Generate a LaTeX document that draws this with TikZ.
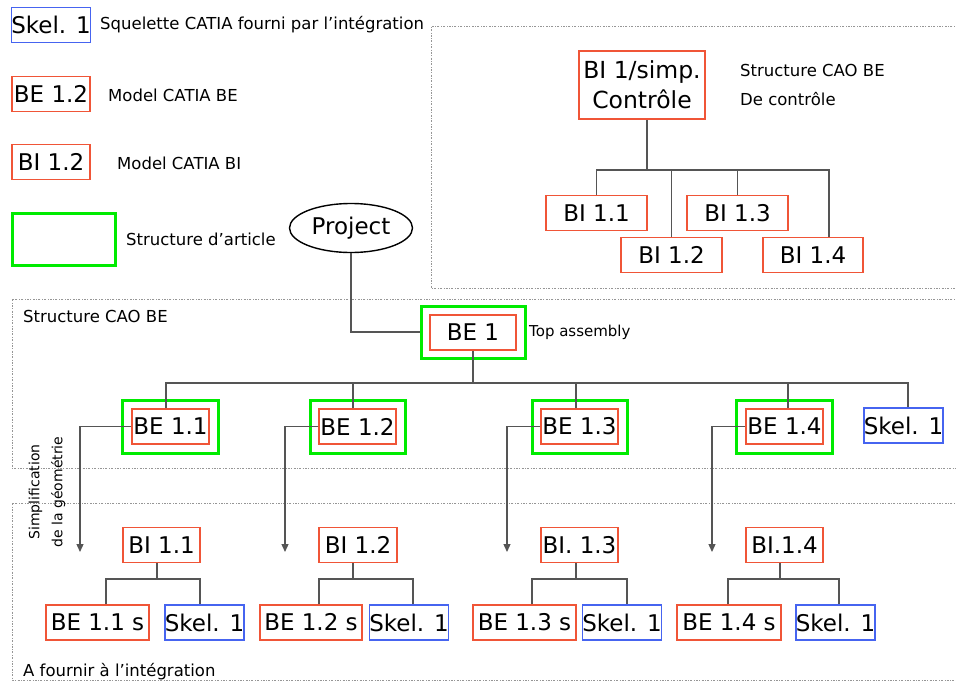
\documentclass[tikz,border=0pt]{standalone}
\usepackage{fontspec}
\setmainfont{DejaVu Sans}
\usetikzlibrary{arrows.meta,shapes.geometric}
\definecolor{bred}{RGB}{240,85,55}
\definecolor{bgreen}{RGB}{0,235,0}
\definecolor{bblue}{RGB}{70,100,240}
\definecolor{conn}{RGB}{85,85,85}
\definecolor{frm}{RGB}{150,150,150}
\begin{document}
\begin{tikzpicture}[x=1pt,y=-1pt,
  bx/.style={inner sep=0pt, font=\fontsize{23}{27}\selectfont, minimum height=35pt, line width=1.4pt},
  redbox/.style={bx, draw=bred},
  bluebox/.style={bx, draw=bblue},
  greenbox/.style={draw=bgreen, line width=3pt, inner sep=0pt, minimum height=53pt},
  lbl/.style={anchor=west, inner sep=0pt, font=\fontsize{16.5}{19}\selectfont},
  frame/.style={draw=frm, line width=0.8pt, dash pattern=on 2pt off 1.5pt on 0.7pt off 1.5pt},
  link/.style={draw=conn, line width=1.3pt},
  arr/.style={link, -{Triangle[width=7pt,length=8pt]}},
]
\useasboundingbox (0,0) rectangle (956,682);
\clip (0,0) rectangle (956,682);

% frames
\draw[frame] (958,26) -- (431,26) -- (431,288) -- (958,288);
\draw[frame] (958,299) -- (12,299) -- (12,468) -- (958,468);
\draw[frame] (958,503) -- (12,503) -- (12,680) -- (958,680);

% legend
\node[bluebox, minimum width=77pt] (lskel) at (51,25) {Skel. 1};
\node[lbl] (tskel) at (100,25) {Squelette CATIA fourni par l’intégration};
\node[redbox, minimum width=78pt] (lbe) at (51,94) {BE 1.2};
\node[lbl] (tbe) at (108,95) {Model CATIA BE};
\node[redbox, minimum width=78pt] (lbi) at (51,162) {BI 1.2};
\node[lbl] (tbi) at (117,163) {Model CATIA BI};
\node[greenbox, minimum width=103pt, minimum height=52pt] (lgr) at (63.5,239) {};
\node[lbl] (tgr) at (126,239) {Structure d’article};

% project
\node[ellipse, draw, line width=1.4pt, minimum width=123pt, minimum height=49pt, inner sep=0pt,
  font=\fontsize{23}{26}\selectfont] (proj) at (351,228) {Project};

% top-right control structure
\node[bx, draw=bred, line width=2pt, minimum width=126pt, minimum height=68pt, align=center,
  font=\fontsize{23.5}{30}\selectfont] (simp) at (642,85) {BI 1/simp.\\Contrôle};
\node[lbl] (tsc1) at (740,70) {Structure CAO BE};
\node[lbl] (tsc2) at (740,99) {De contrôle};
\node[redbox, minimum width=101pt] (tbi1) at (596.5,213) {BI 1.1};
\node[redbox, minimum width=101pt] (tbi2) at (671.5,255) {BI 1.2};
\node[redbox, minimum width=101pt] (tbi3) at (737.5,213) {BI 1.3};
\node[redbox, minimum width=100pt] (tbi4) at (813,255) {BI 1.4};
\coordinate (tbar) at (647,170);
\draw[link] (simp.south -| tbar) -- (tbar);
\draw[link] (tbi1.north) |- (829,170) -- (tbi4.north -| 829,0);
\draw[link] (tbi2.north) -- (tbi2.north |- tbar);
\draw[link] (tbi3.north) -- (tbi3.north |- tbar);

% middle structure
\node[lbl] (tmid) at (23,316) {Structure CAO BE};
\node[greenbox, minimum width=104pt, minimum height=52pt] (be1g) at (473,332) {};
\node[redbox, minimum width=86pt] (be1) at (473,332.5) {BE 1};
\node[lbl, font=\fontsize{15}{18}\selectfont] (ttop) at (529,332) {Top assembly};
\draw[link] (proj.south) |- (be1g.west);

\node[greenbox, minimum width=96pt] (be11g) at (170,426.5) {};
\node[redbox, minimum width=77pt] (be11) at (170.5,426.5) {BE 1.1};
\node[greenbox, minimum width=95pt] (be12g) at (357.5,426.5) {};
\node[redbox, minimum width=77pt] (be12) at (357.5,426.5) {BE 1.2};
\node[greenbox, minimum width=95pt] (be13g) at (579.5,426.5) {};
\node[redbox, minimum width=77pt] (be13) at (579.5,426.5) {BE 1.3};
\node[greenbox, minimum width=96pt] (be14g) at (784,426.5) {};
\node[redbox, minimum width=77pt] (be14) at (784.5,426.5) {BE 1.4};
\node[bluebox, minimum width=77pt] (skm) at (903.5,425.5) {Skel. 1};

\coordinate (mbar) at (473,383);
\draw[link] (be1.south) -- (mbar);
\draw[link] (be11.north -| 166,0) |- (908,383) -- (skm.north -| 908,0);
\draw[link] (be12.north -| 353,0) -- (353,383);
\draw[link] (be13.north -| 576,0) -- (576,383);
\draw[link] (be14.north -| 788,0) -- (788,383);

% simplification arrows
\node[inner sep=0pt, rotate=90, align=center, font=\fontsize{14}{23}\selectfont] (simpl) at (47,492) {Simplification\\de la géométrie};
\coordinate (a1) at (80,552);
\coordinate (a2) at (285,552);
\coordinate (a3) at (507,552);
\coordinate (a4) at (712,552);
\draw[arr] (be11.west) -| (a1);
\draw[arr] (be12.west) -| (a2);
\draw[arr] (be13.west) -| (a3);
\draw[arr] (be14.west) -| (a4);

% bottom structure
\node[redbox, minimum width=77pt] (bi11) at (161.5,545) {BI 1.1};
\node[redbox, minimum width=78pt] (bi12) at (358,545) {BI 1.2};
\node[redbox, minimum width=77pt] (bi13) at (579.5,545) {BI. 1.3};
\node[redbox, minimum width=77pt] (bi14) at (784.5,545) {BI.1.4};

\node[redbox, minimum width=103pt] (be11s) at (97.5,622.5) {BE 1.1 s};
\node[bluebox, minimum width=77pt] (sk1) at (204.5,622.5) {Skel. 1};
\node[redbox, minimum width=102pt] (be12s) at (311,622.5) {BE 1.2 s};
\node[bluebox, minimum width=78pt] (sk2) at (409,622.5) {Skel. 1};
\node[redbox, minimum width=103pt] (be13s) at (524.5,622.5) {BE 1.3 s};
\node[bluebox, minimum width=78pt] (sk3) at (622,622.5) {Skel. 1};
\node[redbox, minimum width=104pt] (be14s) at (729,622.5) {BE 1.4 s};
\node[bluebox, minimum width=77pt] (sk4) at (835.5,622.5) {Skel. 1};

\draw[link] (bi11.south -| 157,0) -- (157,579);
\draw[link] (be11s.north -| 106,0) |- (200,579) -- (sk1.north -| 200,0);
\draw[link] (bi12.south -| 353,0) -- (353,579);
\draw[link] (be12s.north -| 319,0) |- (413,579) -- (sk2.north -| 413,0);
\draw[link] (bi13.south -| 576,0) -- (576,579);
\draw[link] (be13s.north -| 532,0) |- (627,579) -- (sk3.north -| 627,0);
\draw[link] (bi14.south -| 780,0) -- (780,579);
\draw[link] (be14s.north -| 728,0) |- (839,579) -- (sk4.north -| 839,0);

\node[lbl] (tfour) at (23,672) {A fournir à l’intégration};
\end{tikzpicture}
\end{document}
